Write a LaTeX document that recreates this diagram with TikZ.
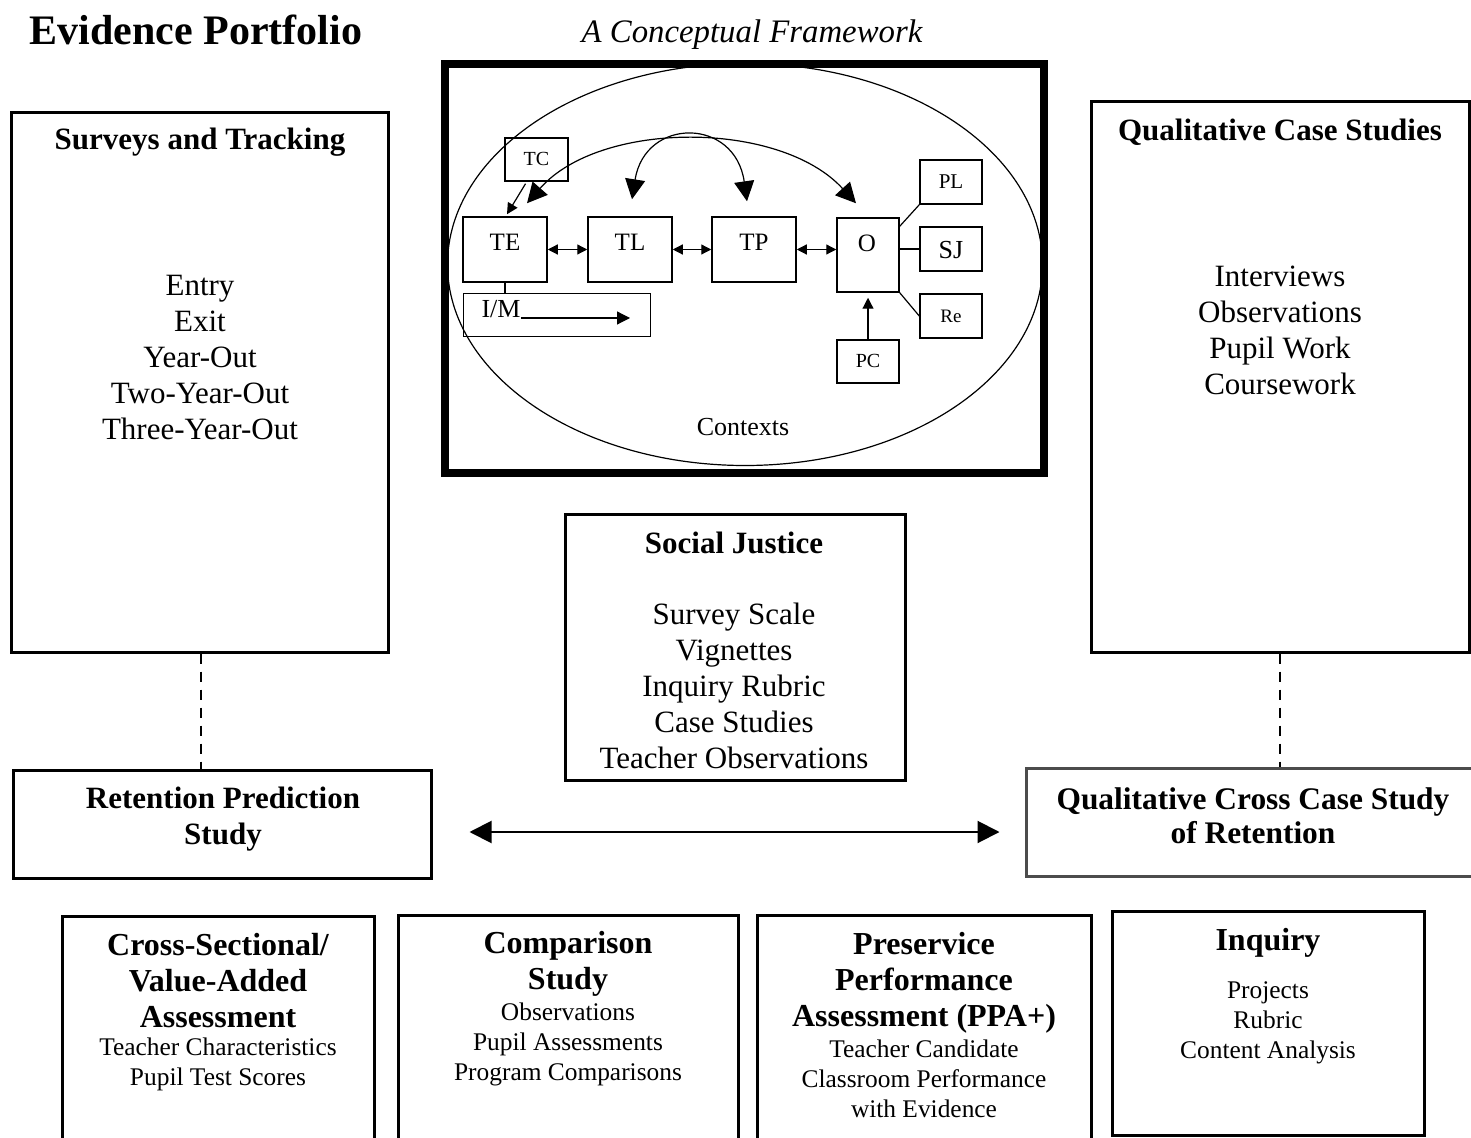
\documentclass[tikz,border=0pt]{standalone}
\usepackage{fontspec}
\setmainfont{Liberation Serif}
\usetikzlibrary{arrows.meta,shapes.geometric}
\tikzset{
  bigbox/.style={draw, line width=1.5pt, inner sep=0pt},
  ibox/.style={draw, line width=0.75pt, inner sep=0pt},
  txt/.style={inner sep=0pt, align=center},
  hd/.style={txt, font=\fontsize{15.5}{18}\selectfont\bfseries},
  bd/.style={txt, font=\fontsize{15.5}{18}\selectfont},
  bhd/.style={txt, font=\fontsize{16}{18}\selectfont\bfseries},
  bbd/.style={txt, font=\fontsize{12.7}{15}\selectfont},
  itxt/.style={txt, font=\fontsize{12.5}{14}\selectfont},
  stxt/.style={txt, font=\fontsize{10}{12}\selectfont},
  arcarr/.style={line width=0.6pt, >={Triangle[length=10pt,width=10pt]}, <->},
  dblarr/.style={line width=0.6pt, >={Triangle[length=5pt,width=5pt]}, <->},
  sarr/.style={line width=0.6pt, >={Triangle[length=5.5pt,width=5.5pt]}, ->},
  link/.style={line width=0.6pt},
  dashlink/.style={line width=1pt, dash pattern=on 5pt off 4pt},
}
\begin{document}
\begin{tikzpicture}[x=0.5pt,y=-0.5pt]
\useasboundingbox (0,0) rectangle (1471,1138);
\clip (0,0) rectangle (1471,1138);

% titles
\node[txt, font=\fontsize{21}{24}\selectfont\bfseries] (title) at (196,30) {Evidence Portfolio};
\node[txt, font=\fontsize{16.4}{18}\selectfont\itshape] (subtitle) at (752,35) {A Conceptual Framework};

% conceptual framework
\node[draw, line width=4pt, inner sep=0pt, minimum width=299.5pt, minimum height=204.5pt] (frame) at (744.5,268.5) {};
\node[draw, ellipse, line width=0.6pt, inner sep=0pt, minimum width=297.5pt, minimum height=201pt] (ctx) at (745,264.5) {};
\node[txt, font=\fontsize{13}{15}\selectfont] (ctxl) at (743,427) {Contexts};

\node[ibox, minimum width=31.5pt, minimum height=21.5pt] (TC) at (536.5,159.5) {};
\node[stxt] (TCl) at (536.5,159) {TC};
\node[ibox, minimum width=42pt, minimum height=32.5pt] (TE) at (505,249.5) {};
\node[itxt] (TEl) at (505,242) {TE};
\node[ibox, minimum width=42pt, minimum height=32.5pt] (TL) at (630,249.5) {};
\node[itxt] (TLl) at (630,242) {TL};
\node[ibox, minimum width=42pt, minimum height=32.5pt] (TP) at (754,249.5) {};
\node[itxt] (TPl) at (754,242) {TP};
\node[ibox, minimum width=31pt, minimum height=37pt] (O) at (868,255) {};
\node[itxt] (Ol) at (867,243) {O};
\node[ibox, minimum width=31pt, minimum height=22pt] (PL) at (951,182) {};
\node[txt, font=\fontsize{10.5}{12}\selectfont] (PLl) at (951,182) {PL};
\node[ibox, minimum width=31pt, minimum height=22pt] (SJ) at (951,249) {};
\node[txt, font=\fontsize{13}{15}\selectfont] (SJl) at (951,250) {SJ};
\node[ibox, minimum width=31pt, minimum height=22pt] (Re) at (951,316) {};
\node[txt, font=\fontsize{9.5}{11}\selectfont] (Rel) at (951,316) {Re};
\node[ibox, minimum width=31pt, minimum height=21.5pt] (PC) at (868,361.5) {};
\node[stxt] (PCl) at (868,361) {PC};
\node[draw, line width=0.5pt, inner sep=0pt, minimum width=93.5pt, minimum height=21.5pt] (IM) at (556.5,315.5) {};
\node[txt, anchor=base, font=\fontsize{13}{15}\selectfont] (IMl) at (501,318) {I/M};
\coordinate (IMend) at (630,318);

\draw[arcarr] ([xshift=11pt,yshift=6.5pt]TE.north) .. controls (600,120) and (780,120) .. ([xshift=-6pt,yshift=7pt]O.north);
\draw[arcarr] ([xshift=1pt,yshift=8.5pt]TL.north) .. controls (645,117) and (735,117) .. ([xshift=-3.5pt,yshift=7.5pt]TP.north);
\draw[sarr] ([xshift=-5.5pt,yshift=-1pt]TC.south) -- ([xshift=1pt,yshift=1pt]TE.north);
\draw[dblarr] (TE.east) -- (TL.west);
\draw[dblarr] (TL.east) -- (TP.west);
\draw[dblarr] (TP.east) -- (TP.east -| O.west);
\draw[link] ([yshift=-4.5pt]O.north east) -- (PL.south west);
\draw[link] (SJ.west -| O.east) -- (SJ.west);
\draw[link] (O.south east) -- (Re.west);
\draw[sarr] (PC.north) -- ([yshift=-2.5pt]O.south);
\draw[link] (TE.south) -- (TE.south |- IM.north);
\draw[line width=0.6pt, -{Triangle[length=6.5pt,width=6.5pt]}] (IMl.base east) -- (IMend);

% Surveys and Tracking
\node[bigbox, minimum width=188.5pt, minimum height=269.5pt] (surv) at (199.5,382.5) {};
\node[hd] (survh) at (200,142) {Surveys and Tracking};
\node[bd] (survb) at (200,358) {Entry\\Exit\\Year-Out\\Two-Year-Out\\Three-Year-Out};

% Qualitative Case Studies
\node[bigbox, minimum width=189pt, minimum height=275pt] (qual) at (1280,377) {};
\node[hd] (qualh) at (1280,132) {Qualitative Case Studies};
\node[bd] (qualb) at (1280,330) {Interviews\\Observations\\Pupil Work\\Coursework};

% Social Justice
\node[bigbox, minimum width=170pt, minimum height=133pt] (soc) at (735,647) {};
\node[hd] (soch) at (734,543) {Social Justice};
\node[bd] (socb) at (734,686) {Survey Scale\\Vignettes\\Inquiry Rubric\\Case Studies\\Teacher Observations};

% Retention / Cross case
\node[bigbox, minimum width=209pt, minimum height=54pt] (ret) at (222,824) {};
\node[hd] (retl) at (223,819) {Retention Prediction\\Study};
\node[bigbox, draw=black!70, minimum width=226pt, minimum height=54pt] (cc) at (1252,822) {};
\node[txt, font=\fontsize{15.7}{17}\selectfont\bfseries] (ccl) at (1253,816) {Qualitative Cross Case Study\\of Retention};

\draw[dashlink] (surv.south -| 201,0) -- (ret.north -| 201,0);
\draw[dashlink] (qual.south) -- (qual.south |- cc.north);
\draw[line width=1pt, >={Triangle[length=11pt,width=11pt]}, <->] ([xshift=18.5pt,yshift=-4pt]ret.east) -- ([xshift=-12.5pt,yshift=-5pt]cc.west);

% bottom row
\node[bigbox, minimum width=156pt, minimum height=122pt] (cs) at (218,1038) {};
\node[bhd] (csh) at (218,981) {Cross-Sectional/\\Value-Added\\Assessment};
\node[bbd] (csb) at (218,1064) {Teacher Characteristics\\Pupil Test Scores};

\node[bigbox, minimum width=170pt, minimum height=122pt] (cmp) at (568,1037) {};
\node[bhd] (cmph) at (568,964) {Comparison\\Study};
\node[bbd] (cmpb) at (568,1044) {Observations\\Pupil Assessments\\Program Comparisons};

\node[bigbox, minimum width=167pt, minimum height=122pt] (ppa) at (924,1037) {};
\node[bhd] (ppah) at (924,982.5) {Preservice\\Performance\\Assessment (PPA+)};
\node[bbd] (ppab) at (924,1078.5) {Teacher Candidate\\Classroom Performance\\with Evidence};

\node[bigbox, minimum width=156pt, minimum height=112pt] (inq) at (1268,1023) {};
\node[bhd] (inqh) at (1268,943) {Inquiry};
\node[bbd] (inqb) at (1268,1022.5) {Projects\\Rubric\\Content Analysis};
\end{tikzpicture}
\end{document}
